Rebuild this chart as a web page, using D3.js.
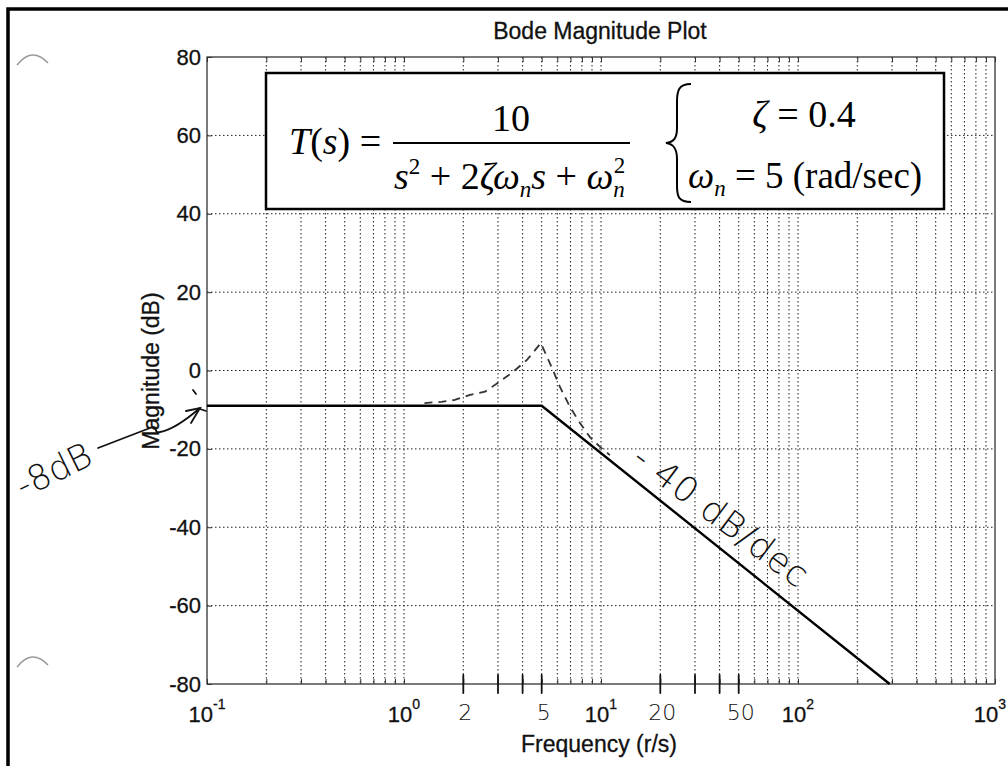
<!DOCTYPE html>
<html>
<head>
<meta charset="utf-8">
<script src="https://cdn.jsdelivr.net/npm/d3@7"></script>
<style>
body { margin: 0; background: #fff; }
svg { display: block; }
</style>
</head>
<body>
<svg width="1008" height="766"></svg>
<script>
// chart values
const decades = [-1, 0, 1, 2, 3];
const magTicks = [80, 60, 40, 20, 0, -20, -40, -60, -80];
const asymptoteFreq = [0.1, 5, 292];
const asymptoteDb = [-9, -9, -80];
const curveFreq = [1.27, 1.55, 1.81, 2.14, 2.58, 2.95, 3.57, 4.21, 4.95, 5.70, 6.19, 6.96, 7.82, 8.79, 9.89, 11.1];
const curveDb = [-8.3, -8.0, -7.5, -6.3, -5.4, -3.4, -0.4, 2.7, 7.0, 0.1, -4.2, -9.3, -13.4, -17.0, -19.5, -21.6];
const handTickFreq = [2, 3, 4, 5, 20, 30, 40, 50];
const handLabelFreq = [2, 5, 20, 50];
const handLabels = ["2", "5", "20", "50"];

const sans = "'Liberation Sans', Arial, sans-serif";
const serif = "'Liberation Serif', 'Times New Roman', serif";
const hand = "'DejaVu Sans', sans-serif";

const svg = d3.select("svg");

const x = d3.scaleLog().domain([0.1, 1000]).range([207, 995]);
const y = d3.scaleLinear().domain([-80, 80]).range([684, 57]);

// page frame (scan edge)
svg.append("rect")
    .attr("x", 8).attr("y", 9).attr("width", 1040).attr("height", 800)
    .attr("fill", "none").attr("stroke", "#000").attr("stroke-width", 3.5);

// hole punch marks
[60, 662].forEach(cy => {
    svg.append("path")
        .attr("d", `M17,${cy + 5} Q32,${cy - 14} 48,${cy + 3}`)
        .attr("fill", "none").attr("stroke", "#9a9a9a").attr("stroke-width", 1.5);
});

// grid
const minorFreq = [];
decades.slice(0, -1).forEach(d => {
    for (let m = 1; m <= 9; m++) minorFreq.push(m * Math.pow(10, d));
});
const g = svg.append("g");

g.selectAll(".vgrid")
    .data(minorFreq.filter(f => f > 0.1))
    .join("line")
    .attr("class", "vgrid")
    .attr("x1", d => x(d)).attr("x2", d => x(d))
    .attr("y1", y(80)).attr("y2", y(-80))
    .attr("stroke", "#222").attr("stroke-width", 1)
    .attr("stroke-dasharray", "1.5,2.5");

g.selectAll(".hgrid")
    .data(magTicks.filter(v => Math.abs(v) < 80))
    .join("line")
    .attr("class", "hgrid")
    .attr("x1", x(0.1)).attr("x2", x(1000))
    .attr("y1", d => y(d)).attr("y2", d => y(d))
    .attr("stroke", "#222").attr("stroke-width", 1)
    .attr("stroke-dasharray", "1.5,2.5");

// axes box
g.append("rect")
    .attr("x", x(0.1)).attr("y", y(80))
    .attr("width", x(1000) - x(0.1)).attr("height", y(-80) - y(80))
    .attr("fill", "none").attr("stroke", "#333").attr("stroke-width", 1.3);

// tick marks on the box
const allFreq = minorFreq.concat([1000]);
g.append("g").attr("transform", `translate(0,${y(-80)})`)
    .call(d3.axisBottom(x).tickValues(allFreq).tickSize(-5).tickFormat(""));
g.append("g").attr("transform", `translate(0,${y(80)})`)
    .call(d3.axisTop(x).tickValues(allFreq).tickSize(-5).tickFormat(""));
const ya = g.append("g").attr("transform", `translate(${x(0.1)},0)`)
    .call(d3.axisLeft(y).tickValues(magTicks).tickSize(-5).tickPadding(8).tickFormat(d => String(d)));
ya.selectAll("text").attr("font-family", sans).attr("font-size", 22).attr("fill", "#111")
    .attr("stroke", "#111").attr("stroke-width", 0.3).attr("dx", 2);
g.selectAll(".domain").remove();
g.selectAll(".tick line").attr("stroke", "#333");

// x decade labels
const xl = g.selectAll(".xlab")
    .data(decades)
    .join("text")
    .attr("class", "xlab")
    .attr("x", d => x(Math.pow(10, d)) - (d === 3 ? 5 : 0))
    .attr("y", 722)
    .attr("text-anchor", "middle")
    .attr("font-family", sans).attr("font-size", 22).attr("fill", "#111")
    .attr("stroke", "#111").attr("stroke-width", 0.3);
xl.append("tspan").text("10");
xl.append("tspan").attr("dy", -13).attr("font-size", 14).text(d => d);

// axis titles
const titleStyle = s => s.attr("text-anchor", "middle")
    .attr("font-family", sans).attr("font-size", 23).attr("fill", "#111")
    .attr("stroke", "#111").attr("stroke-width", 0.3);
svg.append("text").attr("x", 600).attr("y", 39).call(titleStyle)
    .text("Bode Magnitude Plot");
svg.append("text").attr("x", 599).attr("y", 752).call(titleStyle)
    .text("Frequency (r/s)");
svg.append("text").attr("transform", "translate(159,371) rotate(-90)").call(titleStyle)
    .text("Magnitude (dB)");

// dashed actual response
const line = d3.line().x(d => x(d[0])).y(d => y(d[1]));
svg.append("path")
    .datum(d3.zip(curveFreq, curveDb))
    .attr("d", line)
    .attr("fill", "none").attr("stroke", "#333").attr("stroke-width", 1.8)
    .attr("stroke-dasharray", "8,6");

// straight-line asymptote
svg.append("path")
    .datum(d3.zip(asymptoteFreq, asymptoteDb))
    .attr("d", line)
    .attr("fill", "none").attr("stroke", "#000").attr("stroke-width", 2.4);

// equation box
const eq = svg.append("g").attr("font-family", serif).attr("fill", "#000");
eq.append("rect")
    .attr("x", 266).attr("y", 73).attr("width", 678).attr("height", 136)
    .attr("fill", "#fff").attr("stroke", "#000").attr("stroke-width", 2.5);

const ts = eq.append("text").attr("x", 289).attr("y", 154).attr("font-size", 38);
ts.append("tspan").attr("font-style", "italic").text("T");
ts.append("tspan").text("(");
ts.append("tspan").attr("font-style", "italic").text("s");
ts.append("tspan").text(") =");

eq.append("text").attr("x", 511).attr("y", 131).attr("text-anchor", "middle")
    .attr("font-size", 38).text("10");
eq.append("line").attr("x1", 393).attr("x2", 630).attr("y1", 143).attr("y2", 143)
    .attr("stroke", "#000").attr("stroke-width", 2);

const den = eq.append("text").attr("x", 394).attr("y", 189).attr("font-size", 38);
den.append("tspan").attr("font-style", "italic").text("s");
den.append("tspan").attr("dy", -15).attr("font-size", 23).text("2");
den.append("tspan").attr("dy", 15).text(" + 2");
den.append("tspan").attr("font-style", "italic").text("ζω");
den.append("tspan").attr("dy", 8).attr("font-size", 23).attr("font-style", "italic").text("n");
den.append("tspan").attr("dy", -8).attr("font-style", "italic").text("s");
den.append("tspan").text(" + ");
den.append("tspan").attr("font-style", "italic").text("ω");
den.append("tspan").attr("dy", 8).attr("font-size", 23).attr("font-style", "italic").text("n");
den.append("tspan").attr("dx", -11).attr("dy", -24).attr("font-size", 23).text("2");

eq.append("path")
    .attr("d", "M691,84 C679,84 677,90 677,102 L677,128 C677,138 674,142 666,143 C674,144 677,149 677,159 L677,186 C677,197 679,202 691,202")
    .attr("fill", "none").attr("stroke", "#000").attr("stroke-width", 2);

const zl = eq.append("text").attr("x", 804).attr("y", 127).attr("text-anchor", "middle").attr("font-size", 38);
zl.append("tspan").attr("font-style", "italic").text("ζ");
zl.append("tspan").text(" = 0.4");

const wl = eq.append("text").attr("x", 688).attr("y", 188).attr("font-size", 37);
wl.append("tspan").attr("font-style", "italic").text("ω");
wl.append("tspan").attr("dy", 8).attr("font-size", 23).attr("font-style", "italic").text("n");
wl.append("tspan").attr("dy", -8).text(" = 5 (rad/sec)");

// handwritten notes
const pen = svg.append("g").attr("fill", "none").attr("stroke", "#111").attr("stroke-width", 1.8)
    .attr("stroke-linecap", "round");
pen.selectAll(".htick")
    .data(handTickFreq)
    .join("line")
    .attr("x1", d => x(d)).attr("x2", d => x(d))
    .attr("y1", 675).attr("y2", 693);

svg.selectAll(".hlab")
    .data(handLabelFreq)
    .join("text")
    .attr("x", d => x(d) + 2).attr("y", 720)
    .attr("text-anchor", "middle")
    .attr("font-family", hand).attr("font-weight", 200).attr("font-size", 22)
    .attr("fill", "#111")
    .text((d, i) => handLabels[i]);

// -8 dB callout
pen.append("path").attr("d", "M98,448 L150,428 C160,424 152,434 160,432 C172,430 186,420 200,408");
pen.append("path").attr("d", "M186,411 L200,408 L191,423");
pen.append("path").attr("d", "M193,390 L196,394 M200,409 L206,411");
svg.append("text")
    .attr("transform", "translate(59,481) rotate(-26)")
    .attr("text-anchor", "middle")
    .attr("font-family", hand).attr("font-weight", 200).attr("font-size", 35)
    .attr("fill", "#111")
    .text("-8dB");

// slope note
svg.append("text")
    .attr("transform", "translate(714,526) rotate(37)")
    .attr("text-anchor", "middle")
    .attr("font-family", hand).attr("font-weight", 200).attr("font-size", 35)
    .attr("letter-spacing", 1)
    .attr("fill", "#111")
    .text("- 40 dB/dec");
</script>
</body>
</html>
